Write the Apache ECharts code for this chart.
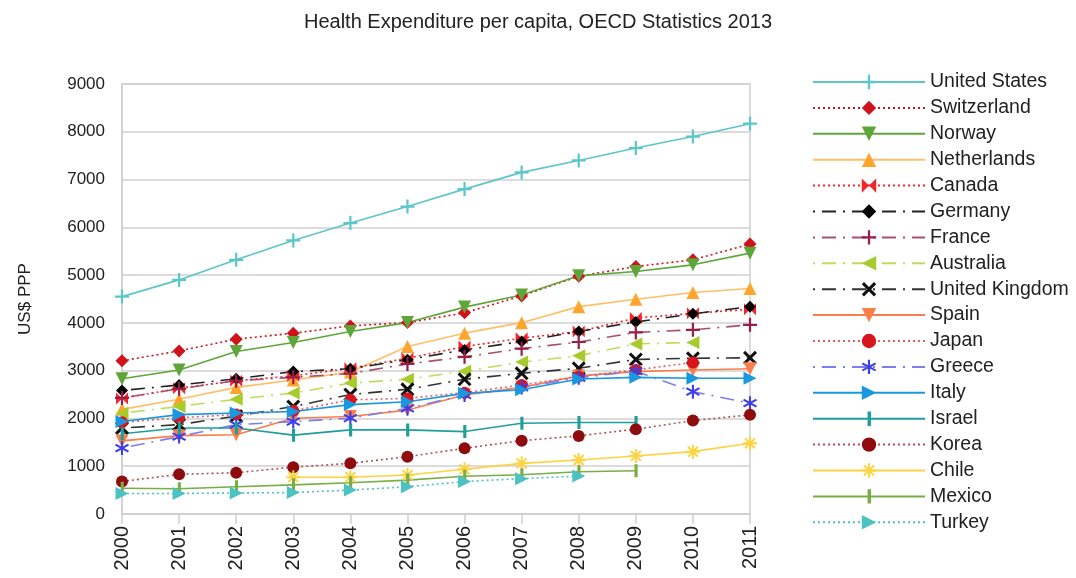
<!DOCTYPE html>
<html><head><meta charset="utf-8">
<script src="https://cdn.jsdelivr.net/npm/echarts@6/dist/echarts.min.js"></script>
<style>html,body{margin:0;padding:0;background:#fff}#c{width:1076px;height:578px}</style>
</head><body><div id="c"></div>
<script>
var years = ['2000','2001','2002','2003','2004','2005','2006','2007','2008','2009','2010','2011'];
var yTicks = [0,1000,2000,3000,4000,5000,6000,7000,8000,9000];
var unitedStates = [4550,4900,5320,5725,6090,6435,6800,7150,7400,7660,7900,8170];
var switzerland = [3205,3414,3660,3785,3937,4006,4210,4565,4975,5180,5320,5650];
var norway = [2830,3015,3400,3590,3820,4006,4330,4585,4985,5075,5215,5460];
var netherlands = [2190,2400,2650,2805,2970,3505,3785,4005,4340,4495,4635,4720];
var canada = [2420,2630,2790,2890,3050,3260,3505,3680,3820,4100,4200,4285];
var germany = [2585,2700,2830,2980,3040,3230,3435,3610,3820,4020,4190,4340];
var france = [2430,2620,2790,2860,2940,3140,3290,3460,3600,3800,3855,3960];
var australia = [2110,2250,2400,2530,2740,2820,2990,3180,3310,3560,3590,null];
var unitedKingdom = [1800,1870,2050,2250,2500,2610,2820,2945,3050,3235,3260,3270];
var spain = [1530,1640,1660,2005,2040,2175,2490,2650,2890,2980,3015,3040];
var japan = [1920,2015,2080,2160,2390,2420,2540,2700,2880,3015,3170,null];
var greece = [1380,1620,1870,1935,2005,2210,2490,2650,2850,2990,2560,2320];
var italy = [1935,2080,2115,2145,2290,2350,2525,2600,2825,2860,2840,2840];
var israel = [1680,1800,1800,1650,1760,1760,1725,1900,1915,1915,null,null];
var korea = [680,830,865,980,1060,1200,1375,1535,1635,1775,1955,2075];
var chile = [null,null,null,770,770,815,935,1060,1130,1215,1305,1480];
var mexico = [540,530,570,610,655,710,790,820,885,905,null,null];
var turkey = [430,430,440,450,500,570,680,740,795,null,null,null];

function bar(angle, w) {
  var a = angle * Math.PI / 180, c = Math.cos(a), s = Math.sin(a), h = w / 2;
  var pts = [[-5,-h],[5,-h],[5,h],[-5,h]].map(function(p){
    return [(5 + p[0]*c - p[1]*s).toFixed(3), (5 + p[0]*s + p[1]*c).toFixed(3)];
  });
  return 'M' + pts[0].join(',') + ' L' + pts[1].join(',') + ' L' + pts[2].join(',') + ' L' + pts[3].join(',') + ' Z';
}
var PLUS = 'path://' + bar(0, 1.6) + ' ' + bar(90, 1.6);
var CROSS = 'path://' + bar(45, 1.8) + ' ' + bar(135, 1.8);
var STAR = 'path://' + bar(90, 1.4) + ' ' + bar(30, 1.4) + ' ' + bar(150, 1.4);
var STAR8 = 'path://' + bar(90, 1.4) + ' ' + bar(0, 1.4) + ' ' + bar(45, 1.4) + ' ' + bar(135, 1.4);
var BOWTIE = 'path://M0,0 L5,5 L0,10 Z M10,0 L5,5 L10,10 Z';
var TICK = 'path://M4,0 L6.4,0 L6.4,10 L4,10 Z M0,0 L0.01,0 L0.01,0.01 Z M10,10 L9.99,10 L9.99,9.99 Z';
var DOT = [2, 3];
var DASHDOT = [2, 7, 14, 7];

var defs = [
  ['United States', unitedStates, '#5cc6cb', 'solid', PLUS, 14, 0],
  ['Switzerland', switzerland, '#d0121b', DOT, 'diamond', 13, 0],
  ['Norway', norway, '#5ea63a', 'solid', 'triangle', 13, 180],
  ['Netherlands', netherlands, '#ffa52e', 'solid', 'triangle', 13, 0, '#ffbf66'],
  ['Canada', canada, '#f5232a', DOT, BOWTIE, 12, 0],
  ['Germany', germany, '#000000', DASHDOT, 'diamond', 12, 0, '#222'],
  ['France', france, '#9a1f45', DASHDOT, PLUS, 14, 0, '#a8506a'],
  ['Australia', australia, '#a7cb2b', DASHDOT, 'triangle', 13, 90, '#c0db5a'],
  ['United Kingdom', unitedKingdom, '#111111', DASHDOT, CROSS, 14, 0, '#333'],
  ['Spain', spain, '#fb7d4a', 'solid', 'triangle', 13, 180],
  ['Japan', japan, '#d8151c', DOT, 'circle', 12, 0, '#e46066'],
  ['Greece', greece, '#3d3ee8', DASHDOT, STAR, 14, 0, '#7d7ef0'],
  ['Italy', italy, '#1a98df', 'solid', 'triangle', 13, -90],
  ['Israel', israel, '#1f9e9c', 'solid', TICK, 13, 0],
  ['Korea', korea, '#8e0c0e', DOT, 'circle', 12, 0, '#b05055'],
  ['Chile', chile, '#ffd23f', 'solid', STAR8, 14, 0],
  ['Mexico', mexico, '#7aad46', 'solid', TICK, 13, 0],
  ['Turkey', turkey, '#4cc2c2', DOT, 'triangle', 13, -90]
];

var series = defs.map(function(d){
  return {
    name: d[0], type: 'line', data: d[1],
    symbol: d[4], symbolSize: d[5], symbolRotate: d[6], showAllSymbol: true,
    itemStyle: {color: d[2]},
    lineStyle: {color: d[7] || d[2], width: 1.6, type: d[3]},
    connectNulls: false, animation: false
  };
});

var FONT = 'Liberation Sans, Arial, sans-serif';
var chart = echarts.init(document.getElementById('c'));
chart.setOption({
  backgroundColor: '#fff',
  textStyle: {fontFamily: FONT},
  title: {text: 'Health Expenditure per capita, OECD Statistics 2013', left: 'center', top: 7,
    textStyle: {fontSize: 20, fontWeight: 'normal', color: '#222', fontFamily: FONT}},
  grid: {left: 122, right: 326, top: 84, bottom: 64, show: true, borderColor: '#cfcfcf', borderWidth: 1.5},
  legend: {orient: 'vertical', left: 807, top: 67, itemWidth: 112, itemHeight: 18, itemGap: 5.9,
    textStyle: {fontSize: 19.5, color: '#222', fontFamily: FONT}, data: defs.map(function(d){return d[0];})},
  xAxis: {type: 'category', data: years, boundaryGap: false,
    axisLine: {lineStyle: {color: '#cfcfcf', width: 1.5}},
    axisTick: {show: true, length: 10, alignWithLabel: true, lineStyle: {color: '#cfcfcf', width: 1.5}},
    axisLabel: {rotate: 90, fontSize: 20, color: '#222', margin: 12, fontFamily: FONT},
    splitLine: {show: false}},
  yAxis: {type: 'value', min: yTicks[0], max: yTicks[yTicks.length-1], interval: 1000,
    name: 'US$ PPP', nameLocation: 'middle', nameGap: 88, nameRotate: 90,
    nameTextStyle: {fontSize: 17, color: '#222', fontFamily: FONT},
    axisLine: {show: true, lineStyle: {color: '#cfcfcf', width: 1.5}},
    axisTick: {show: false},
    axisLabel: {fontSize: 17, color: '#222', margin: 17, fontFamily: FONT, formatter: function(v){return String(v);}},
    splitLine: {lineStyle: {color: '#d0d0d0', width: 1.5}}},
  series: series
});
</script></body></html>
